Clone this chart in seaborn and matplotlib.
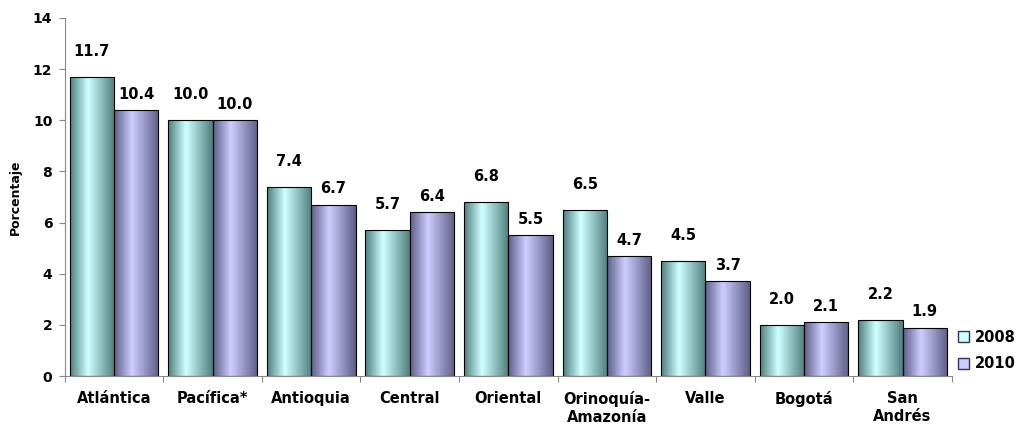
import numpy as np
import pandas as pd
import seaborn as sns
import matplotlib.pyplot as plt
from matplotlib.colors import LinearSegmentedColormap
from matplotlib.patches import Patch

regions = ["Atlántica", "Pacífica*", "Antioquia", "Central", "Oriental",
           "Orinoquía-\nAmazonía", "Valle", "Bogotá", "San\nAndrés"]
vals_2008 = [11.7, 10.0, 7.4, 5.7, 6.8, 6.5, 4.5, 2.0, 2.2]
vals_2010 = [10.4, 10.0, 6.7, 6.4, 5.5, 4.7, 3.7, 2.1, 1.9]
years = ["2008", "2010"]

df = pd.DataFrame({
    "Region": regions * 2,
    "Year": [years[0]] * len(regions) + [years[1]] * len(regions),
    "Value": vals_2008 + vals_2010,
})

sns.set_theme(style="white")
plt.rcParams["font.family"] = ["DejaVu Sans"]
plt.rcParams["font.weight"] = "bold"
plt.rcParams["text.color"] = "black"
plt.rcParams["xtick.color"] = "black"
plt.rcParams["ytick.color"] = "black"
plt.rcParams["axes.labelcolor"] = "black"

fig = plt.figure(figsize=(10.29, 4.25), dpi=100)
ax = fig.add_axes([0.063, 0.115, 0.862, 0.843])

base = {"2008": "#ccffff", "2010": "#ccccff"}
dark = {"2008": "#4f7f7d", "2010": "#5e5e86"}
label_pad = {"2008": 13, "2010": 6}

sns.barplot(data=df, x="Region", y="Value", hue="Year", order=regions,
            hue_order=years, palette=base, width=0.9, ax=ax,
            edgecolor="black", linewidth=0.8, legend=False)

# gradient fill inside each bar
grad = np.concatenate([np.linspace(0, 1, 40), np.linspace(1, 0, 60)])[None, :]
for cont, yr in zip(ax.containers, years):
    cmap = LinearSegmentedColormap.from_list(yr, [dark[yr], base[yr]])
    for bar in cont:
        x0, y0 = bar.get_x(), bar.get_y()
        w, h = bar.get_width(), bar.get_height()
        im = ax.imshow(grad, cmap=cmap, aspect="auto", extent=[x0, x0 + w, y0, y0 + h],
                       zorder=bar.get_zorder() - 0.1, vmin=0, vmax=1)
        im.set_clip_path(bar)
        bar.set_facecolor("none")
    ax.bar_label(cont, fmt="%.1f", padding=label_pad[yr], fontsize=10.5, fontweight="bold")

ax.set_xlim(-0.5, len(regions) - 0.5)
ax.set_ylim(0, 14)
ax.set_yticks(range(0, 15, 2))
ax.set_xlabel("")
ax.set_ylabel("Porcentaje", fontsize=9, fontweight="bold", labelpad=8)

for s in ["top", "right"]:
    ax.spines[s].set_visible(False)
for s in ["left", "bottom"]:
    ax.spines[s].set_color("#888888")
    ax.spines[s].set_linewidth(0.8)

ax.tick_params(axis="y", left=True, length=4, width=0.8, color="#888888",
               labelsize=10, pad=5)
ax.tick_params(axis="x", bottom=False, labelsize=10.5, pad=5)
ax.set_xticks(np.arange(-0.5, len(regions)), minor=True)
ax.tick_params(axis="x", which="minor", bottom=True, length=4, width=0.8, color="#888888")
for t in ax.get_xticklabels() + ax.get_yticklabels():
    t.set_fontweight("bold")

handles = [Patch(facecolor=base[y], edgecolor="#333355", label=y) for y in years]
fig.legend(handles=handles, loc="center left", bbox_to_anchor=(0.918, 0.175),
           frameon=False, handlelength=0.8, handleheight=0.8,
           handletextpad=0.4, labelspacing=0.8, prop={"weight": "bold", "size": 10.5})

fig.savefig("out.png", dpi=100)
